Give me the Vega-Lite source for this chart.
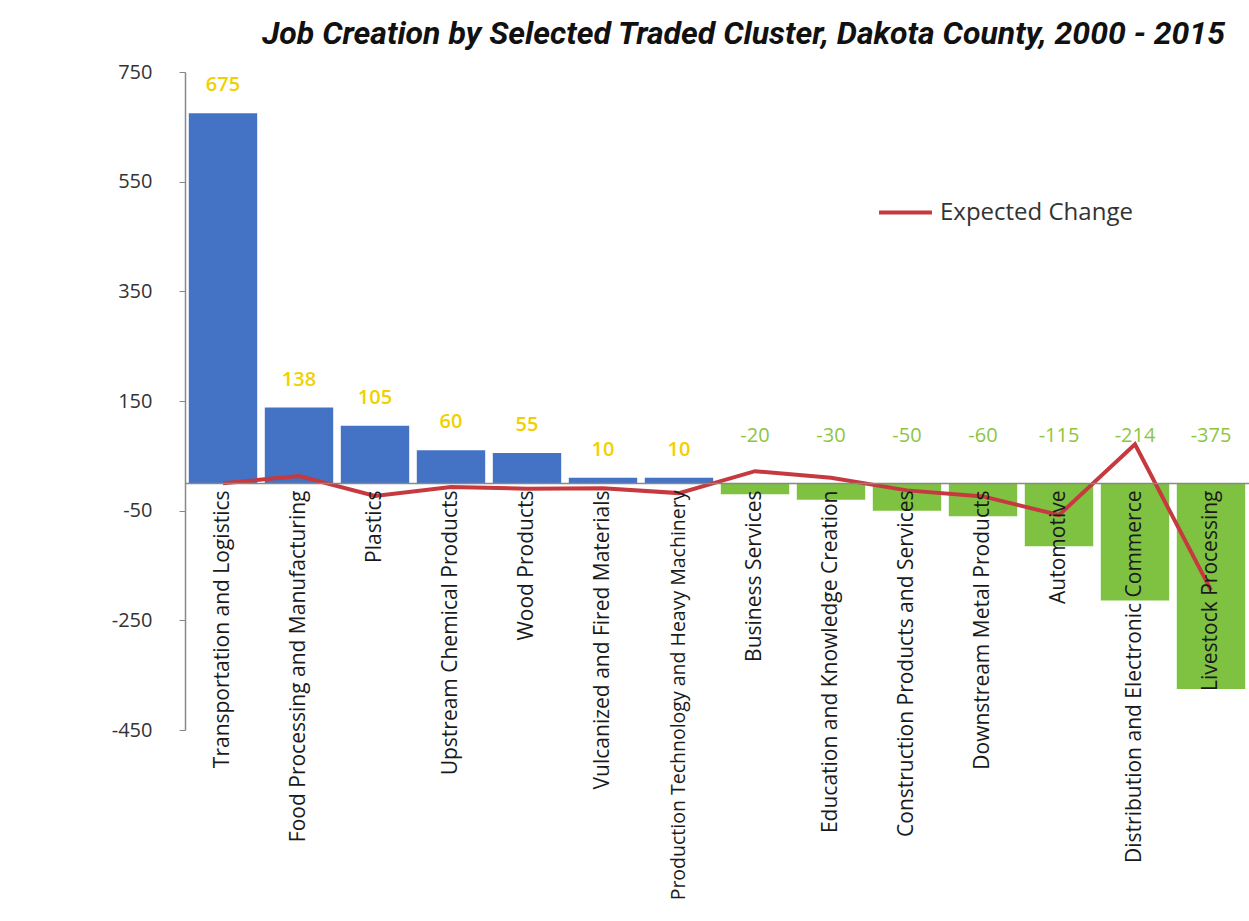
{
  "$schema": "https://vega.github.io/schema/vega-lite/v6.json",
  "autosize": "none",
  "width": 1064,
  "height": 658,
  "padding": {"left": 185, "top": 72, "right": 0, "bottom": 191},
  "background": "white",
  "title": {
    "text": "Job Creation by Selected Traded Cluster, Dakota County, 2000 - 2015",
    "anchor": "end",
    "font": "Roboto",
    "fontSize": 32,
    "fontStyle": "italic",
    "fontWeight": "bold",
    "color": "#111111",
    "dx": -24,
    "offset": 11
  },
  "data": {
    "values": [
      {"cluster": "Transportation and Logistics", "value": 675, "expected": 0},
      {"cluster": "Food Processing and Manufacturing", "value": 138, "expected": 13},
      {"cluster": "Plastics", "value": 105, "expected": -23},
      {"cluster": "Upstream Chemical Products", "value": 60, "expected": -7},
      {"cluster": "Wood Products", "value": 55, "expected": -10},
      {"cluster": "Vulcanized and Fired Materials", "value": 10, "expected": -9},
      {"cluster": "Production Technology and Heavy Machinery", "value": 10, "expected": -18},
      {"cluster": "Business Services", "value": -20, "expected": 22},
      {"cluster": "Education and Knowledge Creation", "value": -30, "expected": 10},
      {"cluster": "Construction Products and Services", "value": -50, "expected": -13},
      {"cluster": "Downstream Metal Products", "value": -60, "expected": -24},
      {"cluster": "Automotive", "value": -115, "expected": -58},
      {"cluster": "Distribution and Electronic Commerce", "value": -214, "expected": 71},
      {"cluster": "Livestock Processing", "value": -375, "expected": -195}
    ]
  },
  "encoding": {
    "x": {
      "field": "cluster",
      "type": "nominal",
      "sort": null,
      "scale": {"paddingInner": 0.1, "paddingOuter": 0.05},
      "axis": {
        "title": null,
        "offset": -247,
        "labelAngle": -90,
        "ticks": false,
        "domainColor": "#888888",
        "domainWidth": 1.5,
        "labelPadding": 7,
        "labelFont": "Open Sans",
        "labelFontSize": {"condition": {"test": "length(datum.label) > 38", "value": 19.5}, "value": 21},
        "labelColor": "#1a1a1a",
        "labelLimit": 700,
        "zindex": 1
      }
    }
  },
  "layer": [
    {
      "mark": {"type": "bar"},
      "encoding": {
        "y": {
          "field": "value",
          "type": "quantitative",
          "scale": {"domain": [-450, 750], "nice": false, "zero": false},
          "axis": {
            "title": null,
            "values": [750, 550, 350, 150, -50, -250, -450],
            "labelExpr": "replace(datum.label, '\u2212', '-')",
            "grid": false,
            "domainColor": "#888888",
            "domainWidth": 1.5,
            "tickColor": "#888888",
            "tickSize": 6,
            "labelPadding": 27,
            "labelFont": "Open Sans",
            "labelFontSize": 20,
            "labelColor": "#333333"
          }
        },
        "color": {
          "condition": {"test": "datum.value < 0", "value": "#7fc242"},
          "value": "#4472c4"
        }
      }
    },
    {
      "transform": [{"filter": "datum.value > 0"}],
      "mark": {"type": "text", "dy": -28, "font": "Open Sans", "fontSize": 20, "fontWeight": 600, "color": "#f2d000", "baseline": "middle"},
      "encoding": {
        "y": {"field": "value", "type": "quantitative"},
        "text": {"field": "value", "type": "nominal"}
      }
    },
    {
      "transform": [{"filter": "datum.value < 0"}],
      "mark": {"type": "text", "font": "Open Sans", "fontSize": 20, "color": "#8cc63f", "baseline": "middle"},
      "encoding": {
        "y": {"datum": 86, "type": "quantitative"},
        "text": {"field": "value", "type": "nominal"}
      }
    },
    {
      "mark": {"type": "line", "strokeWidth": 4, "interpolate": "linear"},
      "encoding": {
        "y": {"field": "expected", "type": "quantitative"},
        "color": {
          "datum": "Expected Change",
          "scale": {"range": ["#c63a3f"]},
          "legend": {
            "title": null,
            "orient": "none",
            "legendX": 692,
            "legendY": 112,
            "symbolType": "stroke",
            "symbolStrokeWidth": 4,
            "symbolSize": 2800,
            "labelFont": "Open Sans",
            "labelFontSize": 24,
            "labelLimit": 400,
            "labelColor": "#333333",
            "labelOffset": 6
          }
        }
      }
    }
  ],
  "config": {"view": {"stroke": null}}
}
